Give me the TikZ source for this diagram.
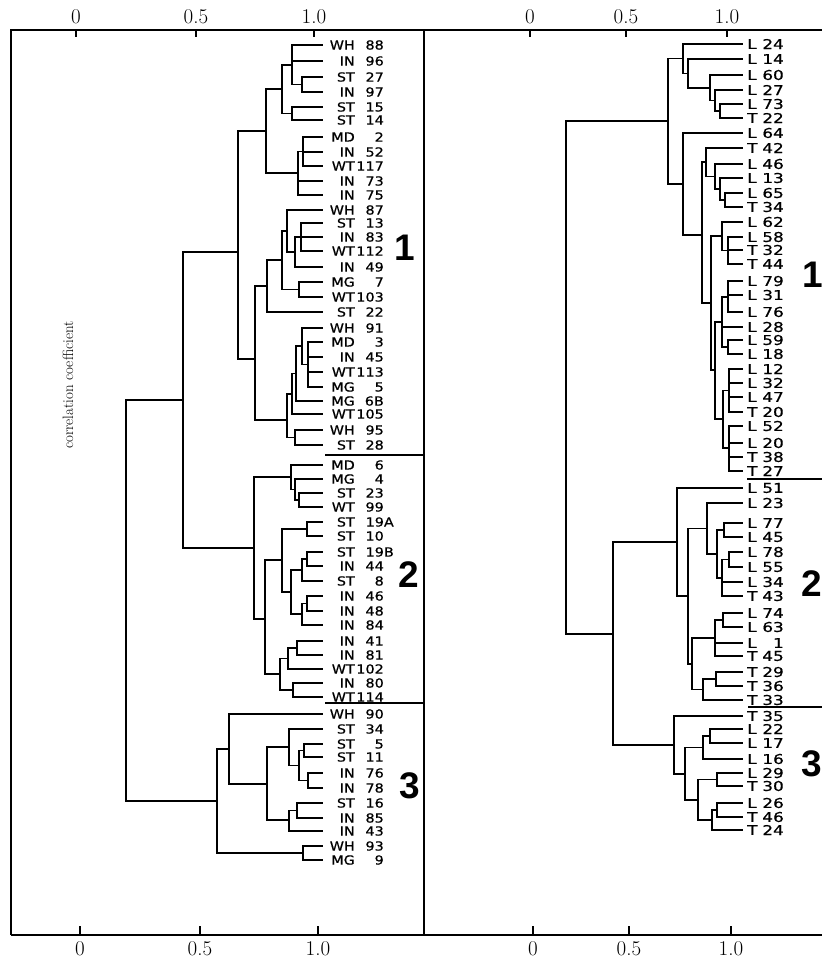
\documentclass[tikz,border=0pt]{standalone}
\usepackage{fontspec}
\newfontfamily\lblfont[FakeStretch=1.15,FakeBold=0.7]{DejaVu Sans}
\newfontfamily\lblfontR[FakeStretch=1.25,FakeBold=0.7]{DejaVu Sans}
\newfontfamily\bigfont{Liberation Sans}
\usetikzlibrary{calc}
\newcommand\jn[5]{\coordinate (#1) at (#2,#3);
  \draw[br] (#1 |- #4) -- (#1 |- #5);
  \draw[br] (#1 |- #4) -- (#4);
  \draw[br] (#1 |- #5) -- (#5);}
\newcommand\mj[2]{\draw[br] (#1 |- #2) -- (#2);}
\newcommand\lfL[4]{\coordinate (#1) at (322,#2);
  \node[lblL] (#1p) at (355,#2) {#3};
  \node[lblL] (#1n) at (384,#2) {#4};}
\newcommand\lfR[4]{\coordinate (#1) at (742,#2);
  \node[lblR,anchor=west] (#1p) at (747,#2) {#3};
  \node[lblR] (#1n) at (784,#2) {#4};}
\tikzset{
  br/.style={line width=1.9pt, line cap=rect},
  frame/.style={line width=1.2pt},
  lblL/.style={inner sep=0pt, anchor=east, font=\lblfont\fontsize{12.5}{12.5}\selectfont},
  lblR/.style={inner sep=0pt, anchor=east, font=\lblfontR\fontsize{13.5}{13.5}\selectfont},
  ax/.style={inner sep=0pt, font=\fontsize{21}{21}\selectfont\addfontfeatures{FakeBold=0.8}},
  big/.style={inner sep=0pt, font=\bigfont\bfseries\fontsize{37}{37}\selectfont},
}
\begin{document}
\begin{tikzpicture}[x=1pt,y=-1pt]
\useasboundingbox[fill=white] (0,0) rectangle (822,961);
% frame
\coordinate (f1) at (11,30); \coordinate (f2) at (424,30); \coordinate (f3) at (822,30);
\coordinate (g1) at (11,935); \coordinate (g2) at (424,935); \coordinate (g3) at (822,935);
\draw[frame] (g1) -- (f1) -- (f3);
\draw[frame] (f2) -- (g2);
\draw[frame] (g1) -- (g3);
% ticks and scale labels
\foreach \xa/\xb/\t in {76/80/0, 196/200/0.5, 314/318/1.0, 530/533/0, 626/629/0.5, 727/731/1.0}{
  \draw[frame] (\xa,30) -- (\xa,37);
  \draw[frame] (\xb,935) -- (\xb,926);
  \node[ax] at (\xa,17) {\t};
  \node[ax] at (\xb,949) {\t};
}
\node[rotate=90, inner sep=0pt, font=\fontsize{15}{15}\selectfont\addfontfeatures{FakeBold=0.6}] (cc) at (68,385) {correlation coefficient};
% separators
\coordinate (s1a) at (325,455); \coordinate (s1b) at (424,455);
\coordinate (s2a) at (325,703); \coordinate (s2b) at (424,703);
\coordinate (s3a) at (747,479); \coordinate (s3b) at (822,479);
\coordinate (s4a) at (748,707); \coordinate (s4b) at (822,707);
\draw[frame] (s1a) -- (s1b); \draw[frame] (s2a) -- (s2b);
\draw[frame] (s3a) -- (s3b); \draw[frame] (s4a) -- (s4b);
% cluster numbers
\node[big] (k1) at (405,248) {1};
\node[big] (k2) at (409,575) {2};
\node[big] (k3) at (410,786) {3};
\node[big] (k4) at (813,275) {1};
\node[big] (k5) at (812,584) {2};
\node[big] (k6) at (812,764) {3};
% ---------- left leaves ----------
\lfL{wh88}{45}{WH}{88}
\lfL{in96}{61}{IN}{96}
\lfL{st27}{77}{ST}{27}
\lfL{in97}{92}{IN}{97}
\lfL{st15}{107}{ST}{15}
\lfL{st14}{120}{ST}{14}
\lfL{md2}{137}{MD}{2}
\lfL{in52}{152}{IN}{52}
\lfL{wt117}{166}{WT}{117}
\lfL{in73}{181}{IN}{73}
\lfL{in75}{195}{IN}{75}
\lfL{wh87}{210}{WH}{87}
\lfL{st13}{223}{ST}{13}
\lfL{in83}{237}{IN}{83}
\lfL{wt112}{251}{WT}{112}
\lfL{in49}{267}{IN}{49}
\lfL{mg7}{282}{MG}{7}
\lfL{wt103}{297}{WT}{103}
\lfL{st22}{312}{ST}{22}
\lfL{wh91}{328}{WH}{91}
\lfL{md3}{342}{MD}{3}
\lfL{in45}{357}{IN}{45}
\lfL{wt113}{372}{WT}{113}
\lfL{mg5}{387}{MG}{5}
\lfL{mg6b}{401}{MG}{6B}
\lfL{wt105}{414}{WT}{105}
\lfL{wh95}{430}{WH}{95}
\lfL{st28}{445}{ST}{28}
\lfL{md6}{465}{MD}{6}
\lfL{mg4}{479}{MG}{4}
\lfL{st23}{493}{ST}{23}
\lfL{wt99}{507}{WT}{99}
\coordinate (st19a) at (322,522); \node[lblL] (st19ap) at (355,522) {ST}; \node[lblL] (st19an) at (394,522) {19A};
\lfL{st10}{536}{ST}{10}
\coordinate (st19b) at (322,552); \node[lblL] (st19bp) at (355,552) {ST}; \node[lblL] (st19bn) at (394,552) {19B};
\lfL{in44}{566}{IN}{44}
\lfL{st8}{581}{ST}{8}
\lfL{in46}{596}{IN}{46}
\lfL{in48}{611}{IN}{48}
\lfL{in84}{625}{IN}{84}
\lfL{in41}{641}{IN}{41}
\lfL{in81}{655}{IN}{81}
\lfL{wt102}{669}{WT}{102}
\lfL{in80}{683}{IN}{80}
\lfL{wt114}{697}{WT}{114}
\lfL{wh90}{714}{WH}{90}
\lfL{st34}{729}{ST}{34}
\lfL{st5}{744}{ST}{5}
\lfL{st11}{757}{ST}{11}
\lfL{in76}{773}{IN}{76}
\lfL{in78}{788}{IN}{78}
\lfL{st16}{803}{ST}{16}
\lfL{in85}{818}{IN}{85}
\lfL{in43}{831}{IN}{43}
\lfL{wh93}{846}{WH}{93}
\lfL{mg9}{860}{MG}{9}
% ---------- left tree ----------
\jn{nS1}{302}{84.5}{st27}{in97}
\jn{nA}{292}{65}{wh88}{nS1} \mj{nA}{in96}
\jn{nT}{292}{113.5}{st15}{st14}
\jn{nB}{282}{89}{nA}{nT}
\jn{nU}{303}{151.5}{md2}{wt117} \mj{nU}{in52}
\jn{nD}{298}{173}{nU}{in75} \mj{nD}{in73}
\jn{nC}{266}{131}{nB}{nD}
\jn{nI}{301}{237}{st13}{wt112} \mj{nI}{in83}
\jn{nJ}{295}{252}{nI}{in49}
\jn{nK}{287}{231}{wh87}{nJ}
\jn{nM}{299}{289.5}{mg7}{wt103}
\jn{nL}{282}{260}{nK}{nM}
\jn{nF1}{267}{286}{nL}{st22}
\jn{nP}{308}{364.5}{md3}{mg5} \mj{nP}{in45} \mj{nP}{wt113}
\jn{nQ}{302}{346}{wh91}{nP}
\jn{nR}{296}{373.5}{nQ}{mg6b}
\jn{nN}{292}{394}{nR}{wt105}
\jn{nV}{295}{437.5}{wh95}{st28}
\jn{nF2}{287}{420}{nN}{nV}
\jn{nF}{255}{359}{nF1}{nF2}
\jn{nE}{238}{252}{nC}{nF}
\jn{nW1a}{299}{500}{st23}{wt99}
\jn{nW1b}{295}{489.5}{mg4}{nW1a}
\jn{nW1}{291}{477}{md6}{nW1b}
\jn{nX1}{307}{529}{st19a}{st10}
\jn{nZ1a}{307}{559}{st19b}{in44}
\jn{nZ1}{302}{570}{nZ1a}{st8}
\jn{nZ2a}{307}{603.5}{in46}{in48}
\jn{nZ2}{302}{614}{nZ2a}{in84}
\jn{nZ}{291}{592}{nZ1}{nZ2}
\jn{nX}{282}{560}{nX1}{nZ}
\jn{nY1a}{297}{648}{in41}{in81}
\jn{nY1}{288}{658.5}{nY1a}{wt102}
\jn{nY2}{293}{690}{in80}{wt114}
\jn{nY}{280}{674}{nY1}{nY2}
\jn{nW2}{265}{619}{nX}{nY}
\jn{nW}{254}{548}{nW1}{nW2}
\jn{nG}{183}{400}{nE}{nW}
\jn{nC3e1}{304}{750.5}{st5}{st11}
\jn{nC3e2}{308}{780.5}{in76}{in78}
\jn{nC3e}{299}{765.5}{nC3e1}{nC3e2}
\jn{nC3c}{289}{747}{st34}{nC3e}
\jn{nC3d1}{297}{810.5}{st16}{in85}
\jn{nC3d}{289}{820}{nC3d1}{in43}
\jn{nC3b}{267}{784}{nC3c}{nC3d}
\jn{nC3a}{229}{749}{wh90}{nC3b}
\jn{nC3f}{303}{853}{wh93}{mg9}
\jn{nC3}{217}{801}{nC3a}{nC3f}
\jn{nRoot}{126}{600}{nG}{nC3}
% ---------- right leaves ----------
\lfR{rl24}{44}{L}{24}
\lfR{rl14}{59}{L}{14}
\lfR{rl60}{75}{L}{60}
\lfR{rl27}{90}{L}{27}
\lfR{rl73}{104}{L}{73}
\lfR{rt22}{118}{T}{22}
\lfR{rl64}{133}{L}{64}
\lfR{rt42}{148}{T}{42}
\lfR{rl46}{164}{L}{46}
\lfR{rl13}{178}{L}{13}
\lfR{rl65}{193}{L}{65}
\lfR{rt34}{207}{T}{34}
\lfR{rl62}{222}{L}{62}
\lfR{rl58}{237}{L}{58}
\lfR{rt32}{250}{T}{32}
\lfR{rt44}{264}{T}{44}
\lfR{rl79}{281}{L}{79}
\lfR{rl31}{295}{L}{31}
\lfR{rl76}{312}{L}{76}
\lfR{rl28}{327}{L}{28}
\lfR{rl59}{340}{L}{59}
\lfR{rl18}{354}{L}{18}
\lfR{rl12}{369}{L}{12}
\lfR{rl32}{383}{L}{32}
\lfR{rl47}{397}{L}{47}
\lfR{rt20}{412}{T}{20}
\lfR{rl52}{426}{L}{52}
\lfR{rl20}{443}{L}{20}
\lfR{rt38}{457}{T}{38}
\lfR{rt27}{471}{T}{27}
\lfR{rl51}{488}{L}{51}
\lfR{rl23}{503}{L}{23}
\lfR{rl77}{523}{L}{77}
\lfR{rl45}{537}{L}{45}
\lfR{rl78}{552}{L}{78}
\lfR{rl55}{567}{L}{55}
\lfR{rl34}{582}{L}{34}
\lfR{rt43}{596}{T}{43}
\lfR{rl74}{613}{L}{74}
\lfR{rl63}{627}{L}{63}
\lfR{rl1}{643}{L}{1}
\lfR{rt45}{656}{T}{45}
\lfR{rt29}{672}{T}{29}
\lfR{rt36}{686}{T}{36}
\lfR{rt33}{700}{T}{33}
\lfR{rt35}{716}{T}{35}
\lfR{rl22}{729}{L}{22}
\lfR{rl17}{743}{L}{17}
\lfR{rl16}{759}{L}{16}
\lfR{rl29}{773}{L}{29}
\lfR{rt30}{786}{T}{30}
\lfR{rl26}{803}{L}{26}
\lfR{rt46}{817}{T}{46}
\lfR{rt24}{830}{T}{24}
% ---------- right tree ----------
\jn{mA5}{720}{111}{rl73}{rt22}
\jn{mA4}{715}{100.5}{rl27}{mA5}
\jn{mA3}{710}{88}{rl60}{mA4}
\jn{mA2}{688}{73.5}{rl14}{mA3}
\jn{mA}{683}{58.5}{rl24}{mA2}
\jn{mG}{725}{200}{rl65}{rt34}
\jn{mF}{720}{189}{rl13}{mG}
\jn{mE}{715}{176.5}{rl46}{mF}
\jn{mD}{706}{162}{rt42}{mE}
\jn{mJ}{728}{250.5}{rl58}{rt44} \mj{mJ}{rt32}
\jn{mI}{722}{236}{rl62}{mJ}
\jn{mL1}{728}{297}{rl79}{rl76} \mj{mL1}{rl31}
\jn{mL3}{728}{347}{rl59}{rl18}
\jn{mL}{722}{322}{mL1}{mL3} \mj{mL}{rl28}
\jn{mN}{729}{390.5}{rl12}{rt20} \mj{mN}{rl32} \mj{mN}{rl47}
\jn{mO}{729}{448}{rl52}{rt27} \mj{mO}{rl20} \mj{mO}{rt38}
\jn{mM}{723}{419}{mN}{mO}
\jn{mK}{715}{370}{mL}{mM}
\jn{mH}{711}{303}{mI}{mK}
\jn{mC}{702}{235}{mD}{mH}
\jn{mB}{683}{184}{rl64}{mC}
\jn{mR1}{668}{121}{mA}{mB}
\jn{mY1}{729}{559.5}{rl78}{rl55}
\jn{mY}{722}{578}{mY1}{rt43} \mj{mY}{rl34}
\jn{mX1}{724}{530}{rl77}{rl45}
\jn{mX}{717}{554}{mX1}{mY}
\jn{mT}{707}{528.5}{rl23}{mX}
\jn{mV1}{723}{620}{rl74}{rl63}
\jn{mV}{715}{638}{mV1}{rt45} \mj{mV}{rl1}
\jn{mW1}{716}{679}{rt29}{rt36}
\jn{mW}{703}{689.5}{mW1}{rt33}
\jn{mU}{692}{664}{mV}{mW}
\jn{mS2b}{688}{596}{mT}{mU}
\jn{mS2}{677}{542}{rl51}{mS2b}
\jn{mZ1a}{710}{736}{rl22}{rl17}
\jn{mZ1}{703}{747.5}{mZ1a}{rl16}
\jn{mZ2a}{717}{779.5}{rl29}{rt30}
\jn{mZ3a}{717}{810}{rl26}{rt46}
\jn{mZ3}{712}{820}{mZ3a}{rt24}
\jn{mZ2}{698}{800}{mZ2a}{mZ3}
\jn{mZ}{685}{774}{mZ1}{mZ2}
\jn{mS3}{674}{745}{rt35}{mZ}
\jn{mS23}{613}{634}{mS2}{mS3}
\jn{mRoot}{566}{400}{mR1}{mS23}
\end{tikzpicture}
\end{document}
